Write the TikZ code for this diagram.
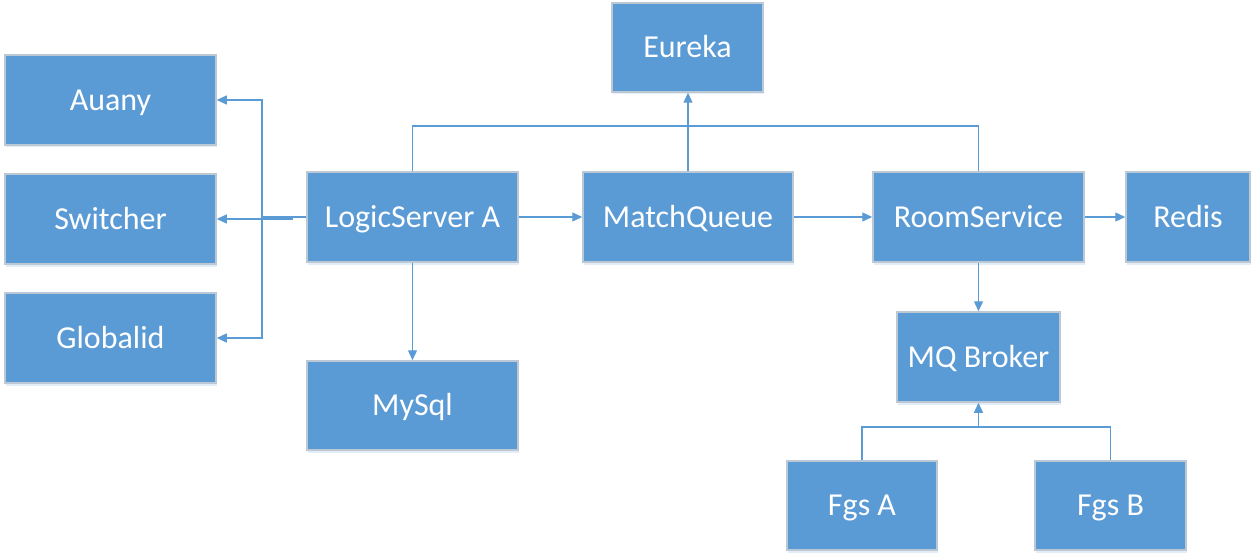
\documentclass[tikz,border=0pt]{standalone}
\usepackage{fontspec}
\setmainfont{Carlito}
\usetikzlibrary{arrows.meta,shadows}
\definecolor{boxblue}{HTML}{5B9BD5}
\definecolor{boxedge}{HTML}{BCC8D4}
\definecolor{linkblue}{HTML}{5B9BD5}
\tikzset{
  svc/.style={rectangle, fill=boxblue, draw=boxedge, line width=1.5pt,
    minimum height=89pt, inner sep=0pt, text=white,
    font=\fontsize{32}{38}\selectfont, text height=20.6pt, text depth=0pt,
    drop shadow={shadow xshift=1pt, shadow yshift=-2.5pt, fill=boxblue!30, opacity=0.6}},
  link/.style={draw=linkblue, line width=1.3pt},
  arr/.style={link, -{Triangle[length=10pt,width=9pt]}}
}
\begin{document}
\begin{tikzpicture}[x=1pt,y=-1pt]
\useasboundingbox (0,0) rectangle (1256,559);
\node[svc, minimum width=151pt] (eureka) at (687.5,47.5) {Eureka};
\node[svc, minimum width=211pt, minimum height=90pt] (auany) at (110.5,100) {Auany};
\node[svc, minimum width=211pt, minimum height=90pt] (switcher) at (110.5,219) {Switcher};
\node[svc, minimum width=211pt, minimum height=90pt] (globalid) at (110.5,338) {Globalid};
\node[svc, minimum width=211pt, minimum height=90pt] (logic) at (412.5,217) {LogicServer A};
\node[svc, minimum width=210pt, minimum height=90pt] (match) at (688,217) {MatchQueue};
\node[svc, minimum width=211pt, minimum height=90pt] (room) at (978.5,217) {RoomService};
\node[svc, minimum width=124pt, minimum height=90pt] (redis) at (1188,217) {Redis};
\node[svc, minimum width=211pt] (mysql) at (412.5,405.5) {MySql};
\node[svc, minimum width=163pt, minimum height=90pt] (broker) at (978.5,357) {MQ Broker};
\node[svc, minimum width=150pt] (fgsa) at (862,505.5) {Fgs A};
\node[svc, minimum width=151pt] (fgsb) at (1110.5,505.5) {Fgs B};

\coordinate (topbar) at (0,126);
\coordinate (lx) at (262,217);
\coordinate (join) at (978.5,427);

\draw[link] (logic.north) -- (logic.north |- topbar) -- (room.north |- topbar) -- (room.north);
\draw[arr] (match.north) -- (match.north |- eureka.south);
\draw[arr] (logic.east) -- (match.west);
\draw[arr] (match.east) -- (room.west);
\draw[arr] (room.east) -- (redis.west);
\draw[arr] (logic.south) -- (mysql.north);
\draw[arr] (room.south) -- (broker.north);
\draw[link] (fgsa.north) |- (join);
\draw[link] (fgsb.north) |- (join);
\draw[arr] (join) -- (broker.south);
\draw[arr] (logic.west) -- (lx) |- (auany.east);
\draw[arr] (lx) |- (globalid.east);
\draw[arr] (logic.west) -- ++(-14,0) |- (switcher.east);
\end{tikzpicture}
\end{document}
